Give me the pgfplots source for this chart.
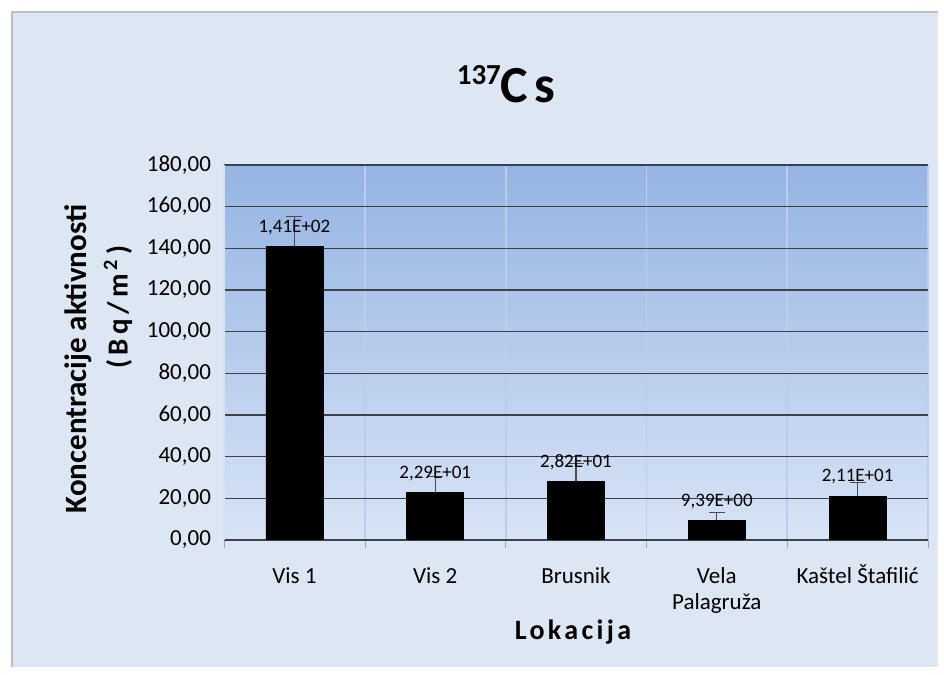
\documentclass[border=0pt]{standalone}
\usepackage{fontspec}
\setmainfont{Carlito}
\usepackage{pgfplots}
\pgfplotsset{compat=1.18}

\definecolor{panelbg}{RGB}{221,230,243}
\definecolor{plottop}{RGB}{149,180,226}
\definecolor{plotbot}{RGB}{216,228,246}
\definecolor{gridc}{RGB}{60,66,76}

\begin{document}
\begin{tikzpicture}[x=1pt,y=1pt]
\useasboundingbox (0,0) rectangle (472,337.5);
\fill[white] (0,0) rectangle (472,337.5);
\fill[panelbg] (6,4) rectangle (469,331.5);
\draw[gray!50, line width=0.6pt] (6,4) -- (6,331.5) -- (469,331.5);

\begin{axis}[
    at={(112pt,67.5pt)}, anchor=south west,
    scale only axis, width=352pt, height=187.5pt,
    ybar, bar width=28.5pt,
    xmin=-0.5, xmax=4.5, ymin=0, ymax=180,
    xtick={0,...,4},
    xticklabels={\strut Vis 1, \strut Vis 2, \strut Brusnik, {\strut Vela\\Palagruža}, \strut Kaštel Štafilić},
    ytick={0,20,...,180},
    minor xtick={-0.5,0.5,...,4.5},
    axis background/.style={top color=plottop, bottom color=plotbot},
    axis x line*=bottom, axis y line*=left,
    x axis line style={draw=gridc, -},
    y axis line style={draw=white!60!plottop, line width=0.8pt, -},
    ymajorgrids, xminorgrids,
    major grid style={draw=gridc, line width=0.6pt},
    minor grid style={draw=white!35!plottop, line width=0.9pt},
    tick align=outside, major tick length=0pt, minor tick length=4pt,
    minor tick style={draw=gray!70},
    tick label style={font=\fontsize{11.5}{13}\selectfont},
    xticklabel style={align=center, anchor=north},
    xticklabel shift=9pt,
    yticklabel shift=3pt,
    yticklabel style={/pgf/number format/.cd, fixed, fixed zerofill, precision=2, use comma, 1000 sep={}, assume math mode=true},
    point meta=explicit symbolic,
    nodes near coords,
    nodes near coords style={font=\fontsize{9.5}{11}\selectfont, anchor=center, yshift=9.5pt, inner sep=1pt},
]
\addplot[fill=black, draw=black,
    error bars/.cd, y dir=plus, y explicit,
    error bar style={draw=gray!60!black, line width=0.6pt},
    error mark options={rotate=90, mark size=4pt, draw=gray!60!black, line width=0.6pt}]
  table[x=x, y=y, y error=e, meta=lab] {
x y     e    lab
0 141.0 14.3 1,41E+02
1 22.9  7.5  2,29E+01
2 28.2  8.5  2,82E+01
3 9.39  4.0  9,39E+00
4 21.1  6.5  2,11E+01
};
\end{axis}

\node[font=\bfseries\fontsize{26}{30}\selectfont] at (253,295.5) {{\fontsize{14.5}{16}\selectfont\raisebox{9pt}{137}}C\hspace{3pt}s};
\node[font=\bfseries\fontsize{15.5}{18}\selectfont, rotate=90] at (39,158) {Koncentracije aktivnosti};
\node[font=\bfseries\fontsize{14.5}{17}\selectfont, rotate=90] at (59,184) {\addfontfeature{LetterSpace=16}(Bq/m\textsuperscript{\,2}\,)};
\node[font=\bfseries\fontsize{14}{17}\selectfont] at (286.5,21.5) {\addfontfeature{LetterSpace=12}Lokacija};
\end{tikzpicture}
\end{document}
